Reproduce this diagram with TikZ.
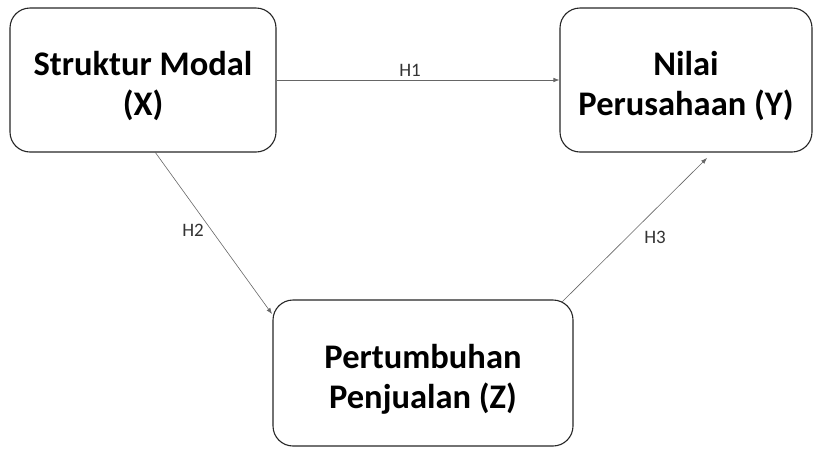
\documentclass[tikz,border=0pt]{standalone}
\usepackage{fontspec}
\setmainfont{Carlito}
\usetikzlibrary{arrows.meta}
\newcommand{\topgap}{\rule{0pt}{36pt}}
\tikzset{
	varbox/.style={draw=black!85, line width=1.1pt, rounded corners=20pt, align=center, font=\fontsize{34.5}{40}\selectfont\bfseries},
	arr/.style={draw=black!60, line width=0.6pt, -{Latex[length=6pt,width=4.5pt]}},
	hlabel/.style={font=\fontsize{19}{22}\selectfont, text=black!80}
}
\begin{document}
\begin{tikzpicture}[x=1pt,y=-1pt]
		\useasboundingbox (0,0) rectangle (813,448);
		\node[varbox, minimum width=266pt, minimum height=144pt] (X) at (143,80) {\topgap Struktur Modal\\(X)};
		\node[varbox, minimum width=252pt, minimum height=144pt] (Y) at (686,80) {\topgap Nilai\\Perusahaan (Y)};
		\node[varbox, minimum width=300pt, minimum height=146pt] (Z) at (423,373) {\topgap Pertumbuhan\\Penjualan (Z)};
		\coordinate (h2s) at (155,152);
		\coordinate (h2e) at (272,314);
		\coordinate (h3s) at (562,302);
		\coordinate (h3e) at (707,158);
		\draw[arr] (X.east) to (Y.west);
		\draw[arr] (h2s) to (h2e);
		\draw[arr] (h3s) to (h3e);
		\node[hlabel] (H1) at (410,70) {H1};
		\node[hlabel] (H2) at (193,230) {H2};
		\node[hlabel] (H3) at (655,237) {H3};
	\end{tikzpicture}
\end{document}
